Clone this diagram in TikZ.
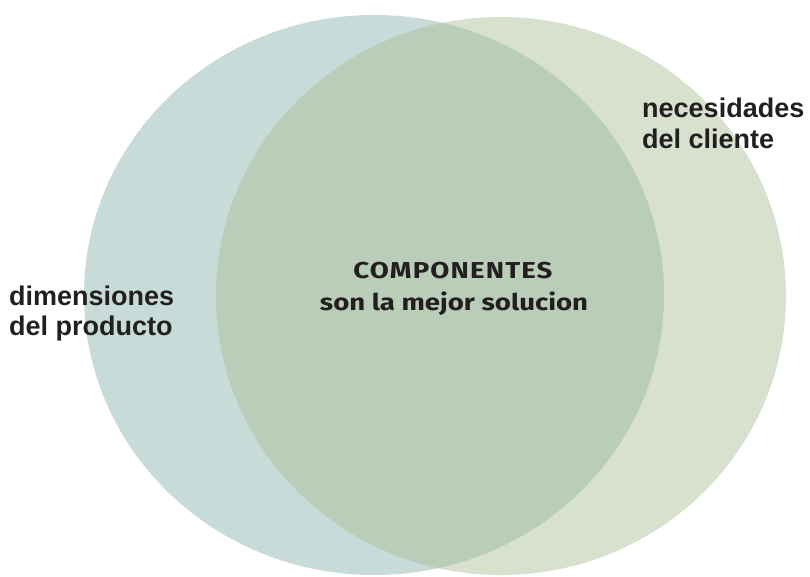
\documentclass[tikz,border=0pt]{standalone}
\usepackage{fontspec}
\setmainfont{Liberation Sans}
\newfontfamily\centerfont[FakeStretch=1.2]{Fira Sans}
\definecolor{leftc}{HTML}{C7DBD8}
\definecolor{rightc}{HTML}{D8E0CE}
\definecolor{midc}{HTML}{B9CDB9}
\definecolor{txt}{HTML}{231F20}
\tikzset{
  sidelabel/.style={anchor=base west, inner sep=0pt, text=txt, font=\bfseries\fontsize{27}{31}\selectfont},
  centerlabel/.style={anchor=base, inner sep=0pt, text=txt, font=\centerfont\bfseries\fontsize{23}{27}\selectfont}
}
\begin{document}
\begin{tikzpicture}[x=1pt,y=-1pt]
\useasboundingbox (0,0) rectangle (810,576);
\path[fill=leftc] (374,295) ellipse [x radius=290, y radius=280];
\path[fill=rightc] (501,296) ellipse [x radius=285, y radius=279];
\begin{scope}
  \clip (374,295) ellipse [x radius=290, y radius=280];
  \path[fill=midc] (501,296) ellipse [x radius=285, y radius=279];
\end{scope}
\node[sidelabel] (nec1) at (642,117) {necesidades};
\node[sidelabel] (nec2) at (642,148) {del cliente};
\node[sidelabel] (dim1) at (9,305) {dimensiones};
\node[sidelabel] (dim2) at (9,335) {del producto};
\node[centerlabel] (comp1) at (453,278) {\addfontfeature{LetterSpace=5}COMPONENTES};
\node[centerlabel] (comp2) at (454,310) {son la mejor solucion};
\end{tikzpicture}
\end{document}
